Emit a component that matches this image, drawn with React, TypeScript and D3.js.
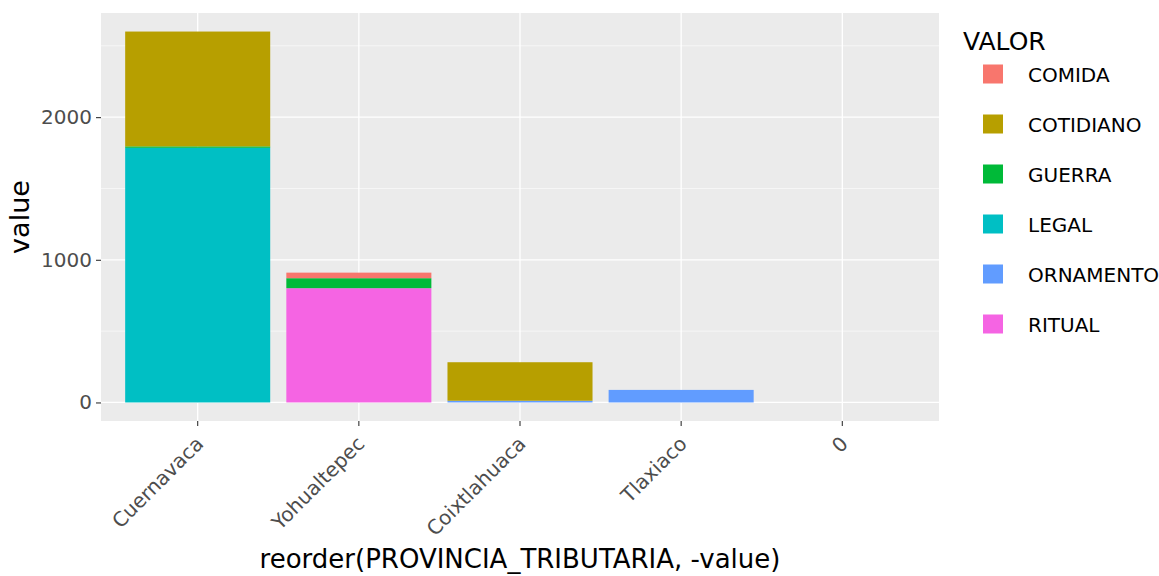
import React, { useRef, useEffect } from 'react'
import * as d3 from 'd3'

const provincias = ['Cuernavaca', 'Yohualtepec', 'Coixtlahuaca', 'Tlaxiaco', '0']
const valores = ['COMIDA', 'COTIDIANO', 'GUERRA', 'LEGAL', 'ORNAMENTO', 'RITUAL']
const colores = ['#F8766D', '#B79F00', '#00BA38', '#00BFC4', '#619CFF', '#F564E3']

// one array per VALOR, in provincia order
const comida = [0, 39, 0, 0, 0]
const cotidiano = [805, 0, 270, 0, 0]
const guerra = [10, 70, 0, 0, 0]
const legal = [1785, 0, 0, 0, 0]
const ornamento = [0, 0, 12, 88, 0]
const ritual = [0, 801, 0, 0, 0]

const yTicks = [0, 1000, 2000]

const FONT = '"DejaVu Sans", sans-serif'

const App = () => {
    const svgRef = useRef<SVGSVGElement>(null)

    useEffect(() => {
        const svg = d3.select(svgRef.current)
        svg.selectAll('*').remove()

        const margin = { top: 13, left: 101 }
        const height = 576
        const panelR = 939
        const panelB = 421

        const table = provincias.map((p, i) => ({
            provincia: p,
            COMIDA: comida[i],
            COTIDIANO: cotidiano[i],
            GUERRA: guerra[i],
            LEGAL: legal[i],
            ORNAMENTO: ornamento[i],
            RITUAL: ritual[i],
        }))

        // ggplot stacks the first level on top, so reverse the key order
        const stack = d3.stack<any>().keys([...valores].reverse())
        const series = stack(table)

        const maxTotal = d3.max(series[series.length - 1], (d) => d[1]) as number

        const xScale = d3
            .scaleBand()
            .domain(provincias)
            .range([margin.left, panelR])
            .paddingInner(0.1)
            .paddingOuter(0.15)

        const yScale = d3
            .scaleLinear()
            .domain([-0.05 * maxTotal, 1.05 * maxTotal])
            .range([panelB, margin.top])

        const color = d3.scaleOrdinal<string>().domain(valores).range(colores)

        //panel background
        svg.append('rect')
            .attr('x', margin.left)
            .attr('y', margin.top)
            .attr('width', panelR - margin.left)
            .attr('height', panelB - margin.top)
            .attr('fill', '#EBEBEB')

        //minor gridlines
        const minor = [500, 1500, 2500].filter((v) => yScale(v) > margin.top)
        svg.selectAll('.minor')
            .data(minor)
            .enter()
            .append('line')
            .attr('x1', margin.left)
            .attr('x2', panelR)
            .attr('y1', (d) => yScale(d))
            .attr('y2', (d) => yScale(d))
            .attr('stroke', '#fff')
            .attr('stroke-width', 0.6)

        //major gridlines
        svg.selectAll('.hgrid')
            .data(yTicks)
            .enter()
            .append('line')
            .attr('x1', margin.left)
            .attr('x2', panelR)
            .attr('y1', (d) => yScale(d))
            .attr('y2', (d) => yScale(d))
            .attr('stroke', '#fff')
            .attr('stroke-width', 1.3)

        svg.selectAll('.vgrid')
            .data(provincias)
            .enter()
            .append('line')
            .attr('x1', (d) => (xScale(d) as number) + xScale.bandwidth() / 2)
            .attr('x2', (d) => (xScale(d) as number) + xScale.bandwidth() / 2)
            .attr('y1', margin.top)
            .attr('y2', panelB)
            .attr('stroke', '#fff')
            .attr('stroke-width', 1.3)

        //stacked bars
        svg.append('g')
            .selectAll('g')
            .data(series)
            .enter()
            .append('g')
            .attr('fill', (d) => color(d.key))
            .selectAll('rect')
            .data((d) => d.filter((s) => s[1] - s[0] > 0))
            .enter()
            .append('rect')
            .attr('x', (d) => xScale(d.data.provincia) as number)
            .attr('width', xScale.bandwidth())
            .attr('y', (d) => yScale(d[1]))
            .attr('height', (d) => yScale(d[0]) - yScale(d[1]))

        //y axis
        const yAxis = svg.append('g')
            .attr('transform', `translate(${margin.left},0)`)
            .call(
                d3.axisLeft(yScale)
                    .tickValues(yTicks)
                    .tickFormat(d3.format('d'))
                    .tickSize(5)
                    .tickPadding(4)
            )
        yAxis.select('.domain').remove()
        yAxis.selectAll('line').attr('stroke', '#333').attr('stroke-width', 1.1)
        yAxis.selectAll('text')
            .attr('fill', '#4D4D4D')
            .style('font-size', '20px')
            .style('font-family', FONT)

        //x axis
        const xAxis = svg.append('g')
            .attr('transform', `translate(0,${panelB})`)
            .call(d3.axisBottom(xScale).tickSize(5).tickPadding(0))
        xAxis.select('.domain').remove()
        xAxis.selectAll('line').attr('stroke', '#333').attr('stroke-width', 1.1)
        xAxis.selectAll('text')
            .attr('fill', '#4D4D4D')
            .attr('text-anchor', 'end')
            .attr('dy', 0)
            .attr('y', 0)
            .attr('transform', 'translate(7,24) rotate(-45)')
            .style('font-size', '20px')
            .style('font-family', FONT)

        //axis titles
        svg.append('text')
            .attr('x', (margin.left + panelR) / 2)
            .attr('y', height - 8)
            .attr('text-anchor', 'middle')
            .style('font-size', '26px')
            .style('font-family', FONT)
            .text('reorder(PROVINCIA_TRIBUTARIA, -value)')

        svg.append('text')
            .attr('x', -(margin.top + panelB) / 2)
            .attr('y', 29)
            .attr('text-anchor', 'middle')
            .attr('transform', 'rotate(-90)')
            .style('font-size', '27px')
            .style('font-family', FONT)
            .text('value')

        //legend
        const legend = svg.append('g').attr('transform', 'translate(963,0)')
        legend.append('text')
            .attr('x', 0)
            .attr('y', 50)
            .style('font-size', '25px')
            .style('font-family', FONT)
            .text('VALOR')

        const items = legend.selectAll('.item')
            .data(valores)
            .enter()
            .append('g')
            .attr('transform', (d, i) => `translate(0,${74 + i * 50})`)
        items.append('rect')
            .attr('x', 20)
            .attr('y', -9.5)
            .attr('width', 20)
            .attr('height', 19)
            .attr('fill', (d) => color(d))
        items.append('text')
            .attr('x', 65)
            .attr('y', 7.5)
            .style('font-size', '20px')
            .style('font-family', FONT)
            .text((d) => d)
    }, [])

    return (
        <div>
            <style>{'body{margin:0}'}</style>
            <svg ref={svgRef} width={1159} height={576} style={{ display: 'block', background: '#fff' }} />
        </div>
    )
}

export default App
